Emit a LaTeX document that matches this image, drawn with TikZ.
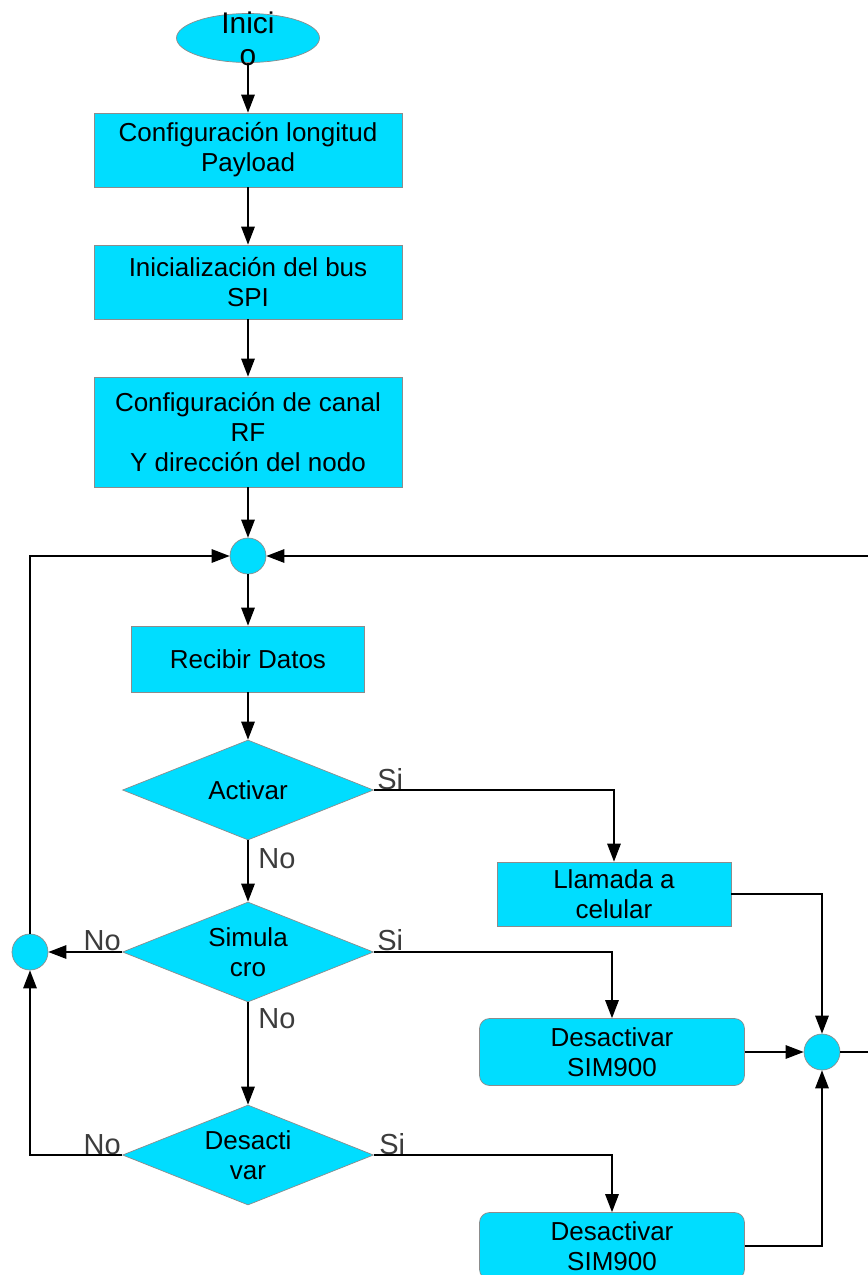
\documentclass[tikz,border=0pt]{standalone}
\usepackage{fontspec}
\setmainfont{Liberation Sans}
\usetikzlibrary{arrows.meta,positioning,shapes}
\definecolor{celeste}{RGB}{0,221,255}
\definecolor{borde}{RGB}{140,140,140}
\definecolor{gristexto}{RGB}{60,60,60}

\begin{document}
\begin{tikzpicture}[x=0.02cm, y=-0.02cm, >={Triangle[length=0.36cm,width=0.27cm]}]
 \tikzset{
Proceso/.style = {rectangle, draw=borde, fill=celeste, align=center, inner sep=0pt, font=\fontsize{14.8}{17}\selectfont},
Redondo/.style = {Proceso, rounded corners=0.2cm, minimum width=5.3cm, minimum height=1.34cm},
Decision/.style = {diamond, draw=borde, fill=celeste, align=center, inner sep=0pt, aspect=2.5, minimum width=5.02cm, minimum height=2cm, font=\fontsize{14.8}{17}\selectfont},
Union/.style = {circle, draw=borde, fill=celeste, minimum size=0.72cm, inner sep=0pt},
Etiqueta/.style = {text=gristexto, inner sep=0pt, font=\fontsize{16.5}{18}\selectfont},
linea/.style = {line width=0.8pt}}

    \useasboundingbox (0,0) rectangle (868,1275);
    \clip (0,0) rectangle (868,1275);

     \node [ellipse, draw=borde, fill=celeste, minimum width=2.86cm, minimum height=0.98cm, inner sep=0pt] (Inicio) at (248,38) {};
     \node [align=center, inner sep=0pt, font=\fontsize{17}{18}\selectfont] (InicioTxt) at (248,39) {Inici\\o};

     \node [Proceso] (Longitud) [minimum width=6.16cm, minimum height=1.48cm] at (248,150) {Configuración longitud\\Payload};
     \node [Proceso] (Bus) [minimum width=6.16cm, minimum height=1.48cm] at (248,282) {Inicialización del bus\\SPI};
     \node [Proceso] (Canal) [minimum width=6.16cm, minimum height=2.2cm] at (248,432) {Configuración de canal\\RF\\Y dirección del nodo};

     \node [Union] (Union1) at (248,556) {};
     \node [Proceso] (Recibir) [minimum width=4.66cm, minimum height=1.32cm] at (248,659) {Recibir Datos};

     \node [Decision] (Activar) at (248,790) {Activar};
     \node [Proceso] (Llamada) [minimum width=4.68cm, minimum height=1.28cm] at (614,894) {Llamada a\\celular};

     \node [Decision] (Simulacro) at (248,952) {Simula\\cro};
     \node [Union] (Union2) at (30,952) {};
     \node [Redondo] (Desact1) at (612,1052) {Desactivar\\SIM900};
     \node [Union] (Union3) at (822,1052) {};

     \node [Decision] (Desactivar) at (248,1155) {Desacti\\var};
     \node [Redondo] (Desact2) at (612,1246) {Desactivar\\SIM900};

     % etiquetas de las ramas
     \node [Etiqueta, anchor=base west] (SiActivar) at (377,789) {Si};
     \node [Etiqueta, anchor=base west] (NoActivar) at (258,868) {No};
     \node [Etiqueta, anchor=base west] (SiSimulacro) at (377,950) {Si};
     \node [Etiqueta, anchor=base east] (NoSimulacro) at (121,950) {No};
     \node [Etiqueta, anchor=base west] (NoSimulacro2) at (258,1028) {No};
     \node [Etiqueta, anchor=base west] (SiDesactivar) at (379,1154) {Si};
     \node [Etiqueta, anchor=base east] (NoDesactivar) at (121,1154) {No};

      \coordinate (Retorno) at (885,1052);

      \draw [linea,->] (Inicio.south) -- (Longitud.north);
      \draw [linea,->] (Longitud.south) -- (Bus.north);
      \draw [linea,->] (Bus.south) -- (Canal.north);
      \draw [linea,->] (Canal.south) -- (Union1.north);
      \draw [linea,->] (Union1.south) -- (Recibir.north);
      \draw [linea,->] (Recibir.south) -- (Activar.north);
      \draw [linea,->] (Activar.east) -| (Llamada.north);
      \draw [linea,->] (Activar.south) -- (Simulacro.north);
      \draw [linea,->] (Llamada.east) -| (Union3.north);
      \draw [linea,->] (Simulacro.west) -- (Union2.east);
      \draw [linea,->] (Simulacro.east) -| (Desact1.north);
      \draw [linea,->] (Desact1.east) -- (Union3.west);
      \draw [linea,->] (Simulacro.south) -- (Desactivar.north);
      \draw [linea,->] (Desactivar.west) -| (Union2.south);
      \draw [linea,->] (Desactivar.east) -| (Desact2.north);
      \draw [linea,->] (Desact2.east) -| (Union3.south);
      \draw [linea,->] (Union2.north) |- (Union1.west);
      \draw [linea,->] (Union3.east) -- (Retorno) |- (Union1.east);

  \end{tikzpicture}
\end{document}
